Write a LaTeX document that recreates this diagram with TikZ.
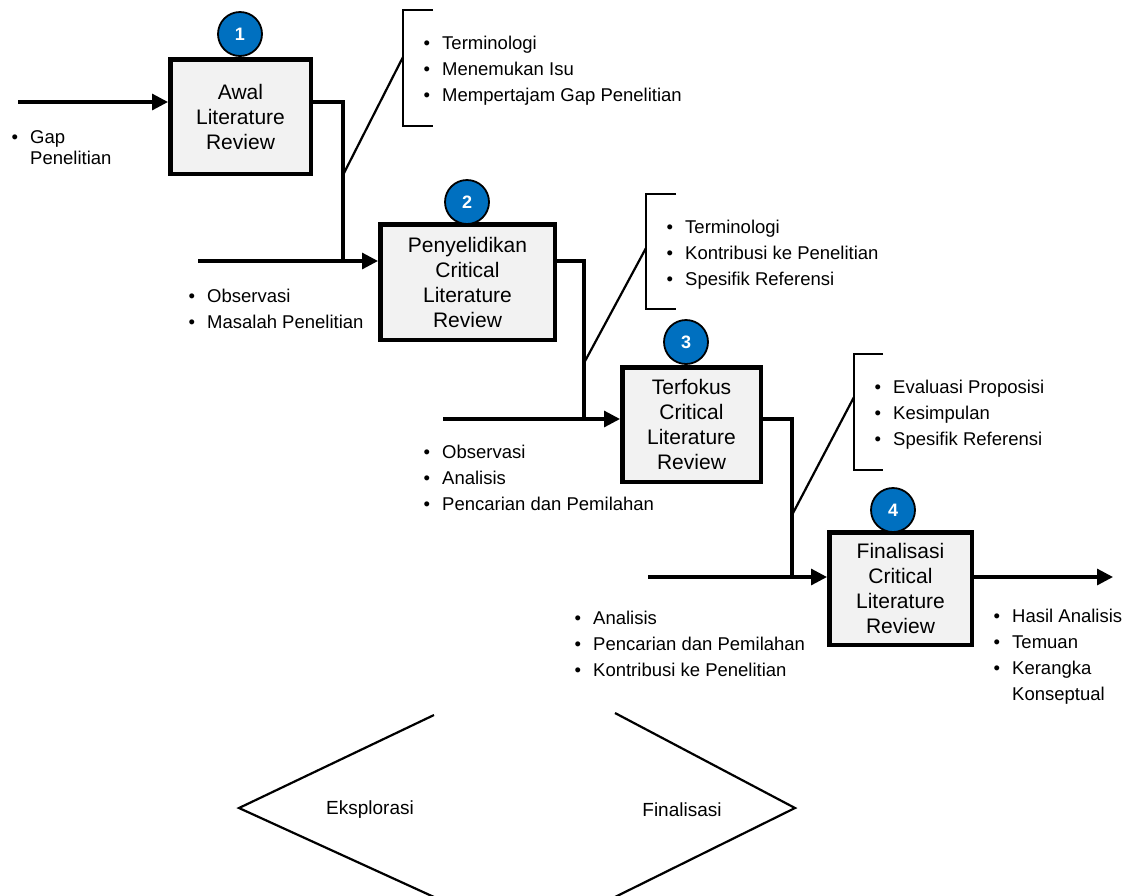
\documentclass[tikz,border=0pt]{standalone}
\usepackage{fontspec}
\setmainfont{Liberation Sans}
\usetikzlibrary{arrows.meta}
\definecolor{numcol}{HTML}{0070C0}
\definecolor{boxcol}{HTML}{F2F2F2}
\newcommand{\itm}{\strut\makebox[18.5pt][l]{\textbullet}}
\newcommand{\noitm}{\strut\hspace*{18.5pt}}

\begin{document}
\begin{tikzpicture}[x=1pt, y=-1pt,
	    stage/.style={draw, line width=4.5pt, fill=boxcol, inner sep=0pt, align=center, font=\fontsize{21}{25}\selectfont},
	    num/.style={circle, draw, line width=1.8pt, fill=numcol, minimum size=44pt, inner sep=0pt, text=white, font=\fontsize{18}{18}\selectfont\bfseries},
	    items/.style={anchor=west, inner sep=0pt, align=left, font=\fontsize{18.5}{26}\selectfont},
	    phase/.style={inner sep=0pt, font=\fontsize{19}{19}\selectfont},
	    flow/.style={line width=3.2pt},
	    tip/.style={flow, -{Triangle[length=16pt,width=16pt]}},
	    link/.style={line width=2.2pt}]
	    \useasboundingbox (0,0) rectangle (1129,895);

		% stages
		\node[stage, minimum width=140.5pt, minimum height=114.5pt] (box1) at (240.5,116.5) {Awal\\Literature\\Review};
		\node[stage, minimum width=174.5pt, minimum height=115.5pt] (box2) at (467.5,282) {Penyelidikan\\Critical\\Literature\\Review};
		\node[stage, minimum width=138.5pt, minimum height=114.5pt] (box3) at (691.5,424.5) {Terfokus\\Critical\\Literature\\Review};
		\node[stage, minimum width=142.5pt, minimum height=112.5pt] (box4) at (900.5,588.5) {Finalisasi\\Critical\\Literature\\Review};

		\node[num] (num1) at (240,34) {1};
		\node[num] (num2) at (467,202) {2};
		\node[num] (num3) at (686,342) {3};
		\node[num] (num4) at (893,510) {4};

		% inputs and outputs
		\coordinate (inA) at (18,102);
		\coordinate (inB) at (198,261);
		\coordinate (inC) at (443,419);
		\coordinate (inD) at (648,577);
		\coordinate (outE) at (1113,577);
		\coordinate (jA) at (343,261);
		\coordinate (jB) at (584,419);
		\coordinate (jC) at (792,577);

		\draw[tip] (inA) -- (box1.west |- inA);
		\draw[tip] (inB) -- (box2.west |- inB);
		\draw[tip] (inC) -- (box3.west |- inC);
		\draw[tip] (inD) -- (box4.west |- inD);
		\draw[flow] (box1.east |- inA) -| (jA);
		\draw[flow] (box2.east |- inB) -| (jB);
		\draw[flow] (box3.east |- inC) -| (jC);
		\draw[tip] (box4.east |- inD) -- (outE);

		% brackets with their lists
		\coordinate (dA) at (343,175);
		\coordinate (brA) at (403,57);
		\coordinate (dB) at (584,363);
		\coordinate (brB) at (646,248);
		\coordinate (dC) at (792,515);
		\coordinate (brC) at (854,397);
		\draw[link] (dA) -- (brA);
		\draw[link] (dB) -- (brB);
		\draw[link] (dC) -- (brC);
		\draw[link] (433,10) -- (403,10) -- (403,126) -- (433,126);
		\draw[link] (676,194) -- (646,194) -- (646,309) -- (676,309);
		\draw[link] (883,354) -- (854,354) -- (854,470) -- (883,470);

		\node[items, font=\fontsize{18.5}{21}\selectfont] (lstGap) at (11.5,150) {\itm Gap\\\noitm Penelitian};
		\node[items] (lstTerm1) at (423.5,70.5) {\itm Terminologi\\\itm Menemukan Isu\\\itm Mempertajam Gap Penelitian};
		\node[items] (lstObs1) at (188.5,310) {\itm Observasi\\\itm Masalah Penelitian};
		\node[items] (lstTerm2) at (666.5,254) {\itm Terminologi\\\itm Kontribusi ke Penelitian\\\itm Spesifik Referensi};
		\node[items] (lstObs2) at (423.5,479.5) {\itm Observasi\\\itm Analisis\\\itm Pencarian dan Pemilahan};
		\node[items] (lstEval) at (874.5,414) {\itm Evaluasi Proposisi\\\itm Kesimpulan\\\itm Spesifik Referensi};
		\node[items] (lstAnl) at (574.5,645) {\itm Analisis\\\itm Pencarian dan Pemilahan\\\itm Kontribusi ke Penelitian};
		\node[items] (lstHasil) at (993.5,656.5) {\itm Hasil Analisis\\\itm Temuan\\\itm Kerangka\\\noitm Konseptual};

		% phases
		\node[phase] (eks) at (370,810) {Eksplorasi};
		\node[phase] (fin) at (682,810) {Finalisasi};
		\draw[link] (434,715) -- (239,808) -- (434,897);
		\draw[link] (615,713) -- (795,808) -- (615,897); % end of phases

	  \end{tikzpicture}
\end{document}
